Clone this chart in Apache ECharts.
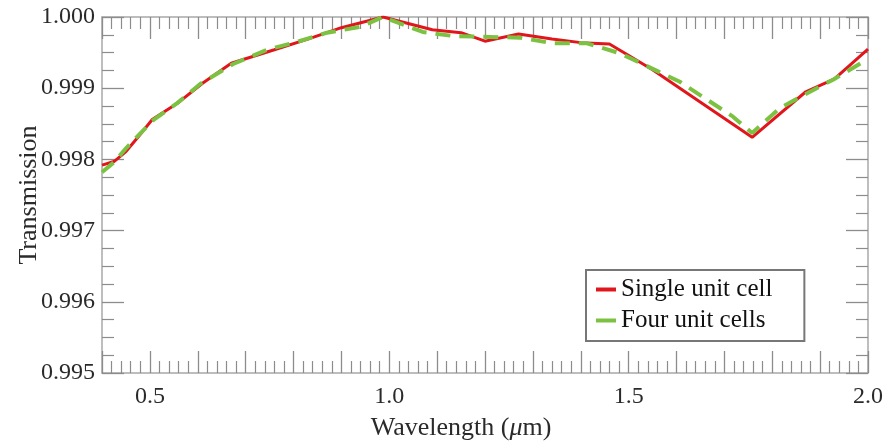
<!DOCTYPE html>
<html>
<head>
<meta charset="utf-8">
<script src="https://cdn.jsdelivr.net/npm/echarts@6/dist/echarts.min.js"></script>
<style>
html,body{margin:0;padding:0;background:#fff;}
#chart{width:883px;height:442px;}
</style>
</head>
<body>
<div id="chart"></div>
<script>
// Single unit cell (red)
var singleWavelength = [0.40, 0.425, 0.45, 0.475, 0.505, 0.53, 0.56, 0.61, 0.67, 0.76, 0.83, 0.90, 0.987, 1.09, 1.15, 1.20, 1.27, 1.34, 1.40, 1.46, 1.55, 1.758, 1.87, 1.93, 2.00];
var singleTrans = [0.99792, 0.99797, 0.99811, 0.99831, 0.99856, 0.99867, 0.99880, 0.99907, 0.99935, 0.99954, 0.99969, 0.99985, 1.00000, 0.99982, 0.99978, 0.99966, 0.99976, 0.99969, 0.99964, 0.99962, 0.99926, 0.99831, 0.99895, 0.99913, 0.99955];
// Four unit cells (green dashed)
var fourWavelength = [0.40, 0.425, 0.452, 0.507, 0.557, 0.605, 0.674, 0.745, 0.807, 0.870, 0.939, 0.987, 1.070, 1.137, 1.210, 1.273, 1.342, 1.413, 1.482, 1.607, 1.718, 1.758, 1.816, 1.873, 1.927, 2.00];
var fourTrans = [0.99782, 0.99796, 0.99817, 0.99855, 0.99879, 0.99906, 0.99934, 0.99954, 0.99965, 0.99978, 0.99986, 1.00000, 0.99979, 0.99973, 0.99972, 0.99971, 0.99963, 0.99963, 0.99949, 0.99909, 0.99860, 0.99837, 0.99872, 0.99893, 0.99912, 0.99941];
var seriesNames = ['Single unit cell', 'Four unit cells'];
var yTitle = 'Transmission';

function pairs(xs, ys){ return xs.map(function(x,i){ return [x, ys[i]]; }); }

var FONT = '"Liberation Serif", "DejaVu Serif", serif';
var axisGray = '#a8a8a8';
var tickGray = '#8c8c8c';

var chart = echarts.init(document.getElementById('chart'), null, {renderer:'canvas'});

function xAx(pos, labels){
  return {
    type:'value', position:pos, min:0.4, max:2.0, interval:0.1,
    axisLine:{show:true, onZero:false, lineStyle:{color:axisGray, width:1.5}},
    axisTick:{show:true, inside:true, length:22, lineStyle:{color:tickGray, width:1.3}},
    minorTick:{show:true, splitNumber:5, length:12, lineStyle:{color:tickGray, width:1.2}},
    splitLine:{show:false},
    axisLabel:{show:labels, margin:12, fontFamily:FONT, fontSize:24, color:'#2a2a2a',
      showMinLabel:true, showMaxLabel:true,
      formatter:function(v){ var t=v*2; return Math.abs(t-Math.round(t))<1e-6 ? v.toFixed(1) : ''; }},
    name: labels ? '{a|Wavelength (}{b|μ}{a|m)}' : '',
    nameLocation:'middle', nameGap:42, nameMoveOverlap:false,
    nameTextStyle:{padding:[0,48,0,0], rich:{
      a:{fontFamily:FONT, fontSize:26, color:'#2a2a2a'},
      b:{fontFamily:FONT, fontSize:26, fontStyle:'italic', color:'#2a2a2a'}}}
  };
}
function yAx(pos, labels){
  return {
    type:'value', position:pos, min:0.995, max:1.0, interval:0.001,
    axisLine:{show:true, onZero:false, lineStyle:{color:axisGray, width:1.5}},
    axisTick:{show:true, inside:true, length:22, lineStyle:{color:tickGray, width:1.3}},
    minorTick:{show:true, splitNumber:4, length:12, lineStyle:{color:tickGray, width:1.2}},
    splitLine:{show:false},
    axisLabel:{show:labels, margin:7, fontFamily:FONT, fontSize:24, color:'#2a2a2a',
      formatter:function(v){ return v.toFixed(3); }},
    name: labels ? yTitle : '',
    nameLocation:'middle', nameGap:60, nameMoveOverlap:false,
    nameTextStyle:{fontFamily:FONT, fontSize:26, color:'#2a2a2a'}
  };
}

chart.setOption({
  backgroundColor:'#ffffff',
  animation:false,
  textStyle:{fontFamily:FONT},
  grid:{left:102, right:15, top:17, bottom:69, containLabel:false, outerBoundsMode:'none'},
  xAxis:[xAx('bottom', true), xAx('top', false)],
  yAxis:[yAx('left', true), yAx('right', false)],
  legend:{
    show:true, orient:'vertical', left:586, top:270,
    data:seriesNames,
    backgroundColor:'#ffffff', borderColor:'#777777', borderWidth:2,
    padding:[7,32,8,10], itemGap:6,
    icon:'rect', itemWidth:20, itemHeight:4,
    itemStyle:{borderWidth:0, borderType:'solid'},
    lineStyle:{type:'solid'},
    textStyle:{fontFamily:FONT, fontSize:25, color:'#111111'}
  },
  series:[
    {name:seriesNames[0], type:'line', data:pairs(singleWavelength, singleTrans),
     showSymbol:false, symbol:'none', z:2,
     lineStyle:{color:'#e0161c', width:3}, itemStyle:{color:'#e0161c'}},
    {name:seriesNames[1], type:'line', data:pairs(fourWavelength, fourTrans),
     showSymbol:false, symbol:'none', z:3,
     lineStyle:{color:'#7cc242', width:4, type:[15,9]}, itemStyle:{color:'#7cc242'}}
  ]
});
</script>
</body>
</html>
